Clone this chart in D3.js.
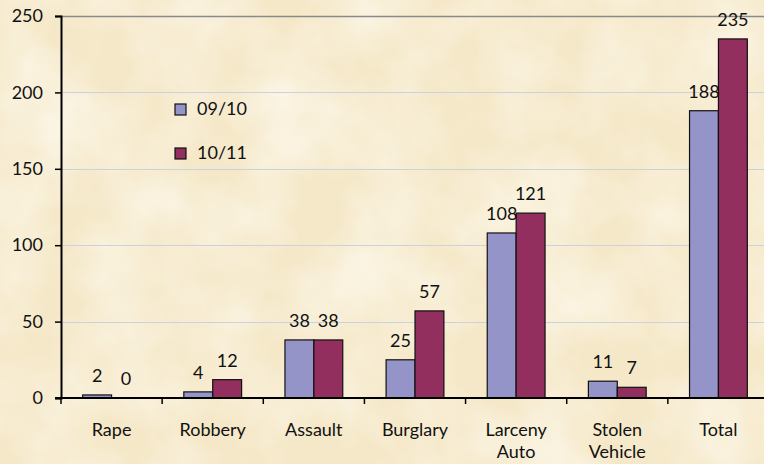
<!DOCTYPE html>
<html>
<head>
<meta charset="utf-8">
<script src="https://cdn.jsdelivr.net/npm/d3@7"></script>
<style>
  body { margin: 0; background: #f6eacb; }
  svg { display: block; font-family: "Lato", "Open Sans", sans-serif; }
</style>
</head>
<body>
<div class="plot"></div>
<script>
const categories = ["Rape", "Robbery", "Assault", "Burglary", "Larceny Auto", "Stolen Vehicle", "Total"];
const seriesNames = ["09/10", "10/11"];
const values0910 = [2, 4, 38, 25, 108, 11, 188];
const values1011 = [0, 12, 38, 57, 121, 7, 235];
const yTicks = [0, 50, 100, 150, 200, 250];

const width = 764;
const height = 464;
const colors = ["#9494c9", "#922f5e"];

const svg = d3
    .select(".plot")
    .append("svg")
    .attr("width", width)
    .attr("height", height);

// parchment background
const defs = svg.append("defs");
const filter = defs.append("filter").attr("id", "paper").attr("x", 0).attr("y", 0).attr("width", "100%").attr("height", "100%");
filter.append("feTurbulence").attr("type", "fractalNoise").attr("baseFrequency", 0.012).attr("numOctaves", 4).attr("seed", 3);
filter.append("feColorMatrix").attr("type", "matrix")
    .attr("values", "0 0 0 0 1  0 0 0 0 0.98  0 0 0 0 0.92  1.4 0 0 0 -0.45");

svg.append("rect").attr("width", width).attr("height", height).attr("fill", "#f5e8c8");
svg.append("rect").attr("width", width).attr("height", height).attr("filter", "url(#paper)").attr("opacity", 0.8);

const x0 = d3
    .scaleBand()
    .domain(categories)
    .range([61, 769])
    .paddingInner(1.5 / 3.5)
    .paddingOuter(0.75 / 3.5);

const x1 = d3.scaleBand().domain(seriesNames).range([0, x0.bandwidth()]);

const y = d3.scaleLinear().domain([0, 250]).range([398, 16]);

// gridlines
svg.append("g")
    .selectAll("line")
    .data(yTicks.filter((d) => d > 0))
    .join("line")
    .attr("x1", 61)
    .attr("x2", width)
    .attr("y1", (d) => Math.round(y(d)) + 0.5)
    .attr("y2", (d) => Math.round(y(d)) + 0.5)
    .attr("stroke", (d) => (d === 250 ? "#8a8a8a" : "#c9d3df"))
    .attr("stroke-width", (d) => (d === 250 ? 1.5 : 1));

// bars
const data = categories.map((c, i) => ({
    category: c,
    values: [values0910[i], values1011[i]],
}));

const groups = svg
    .append("g")
    .selectAll("g")
    .data(data)
    .join("g")
    .attr("transform", (d) => `translate(${x0(d.category)},0)`);

groups
    .selectAll("rect")
    .data((d) => d.values.map((v, j) => ({ key: seriesNames[j], v, j })))
    .join("rect")
    .attr("x", (d) => x1(d.key))
    .attr("width", x1.bandwidth())
    .attr("y", (d) => y(d.v))
    .attr("height", (d) => y(0) - y(d.v))
    .attr("fill", (d) => colors[d.j])
    .attr("stroke", "#111")
    .attr("stroke-width", 1.2);

groups
    .selectAll("text")
    .data((d) => d.values.map((v, j) => ({ key: seriesNames[j], v, j })))
    .join("text")
    .attr("x", (d) => x1(d.key) + x1.bandwidth() / 2)
    .attr("y", (d) => y(d.v) - 13)
    .attr("text-anchor", "middle")
    .style("font-size", "18px")
    .style("fill", "#111")
    .text((d) => d.v);

// y axis
const yAxis = svg
    .append("g")
    .attr("transform", "translate(61,0)")
    .call(d3.axisLeft(y).tickValues(yTicks).tickSize(6).tickPadding(12));
yAxis.select(".domain").attr("stroke", "#000").attr("stroke-width", 2);
yAxis.selectAll(".tick line").attr("stroke", "#000").attr("stroke-width", 1.5);
yAxis.selectAll(".tick text").style("font-size", "18px").style("font-family", "Lato").attr("fill", "#111");

// x axis
const xAxis = svg.append("g").attr("transform", "translate(0,398)");
xAxis.append("line").attr("x1", 55).attr("x2", width).attr("stroke", "#000").attr("stroke-width", 2);
xAxis
    .selectAll("line.cat")
    .data(categories.map((c, i) => i))
    .join("line")
    .attr("class", "cat")
    .attr("x1", (i) => 61 + i * x0.step())
    .attr("x2", (i) => 61 + i * x0.step())
    .attr("y1", 0)
    .attr("y2", 6)
    .attr("stroke", "#000")
    .attr("stroke-width", 1.5);

xAxis
    .selectAll("text")
    .data(categories)
    .join("text")
    .attr("x", (d) => x0(d) + x0.bandwidth() / 2)
    .attr("y", 38)
    .attr("text-anchor", "middle")
    .style("font-size", "18px")
    .style("fill", "#111")
    .selectAll("tspan")
    .data((d) => d.split(" "))
    .join("tspan")
    .attr("x", function () { return d3.select(this.parentNode).attr("x"); })
    .attr("dy", (d, i) => (i === 0 ? 0 : 22))
    .text((d) => d);

// legend
const legend = svg
    .append("g")
    .selectAll("g")
    .data(seriesNames)
    .join("g")
    .attr("transform", (d, i) => `translate(175,${104 + i * 44})`);

legend
    .append("rect")
    .attr("width", 11)
    .attr("height", 11)
    .attr("fill", (d, i) => colors[i])
    .attr("stroke", "#111")
    .attr("stroke-width", 1.2);

legend
    .append("text")
    .attr("x", 22)
    .attr("y", 11)
    .style("font-size", "18px")
    .style("fill", "#111")
    .text((d) => d);
</script>
</body>
</html>
